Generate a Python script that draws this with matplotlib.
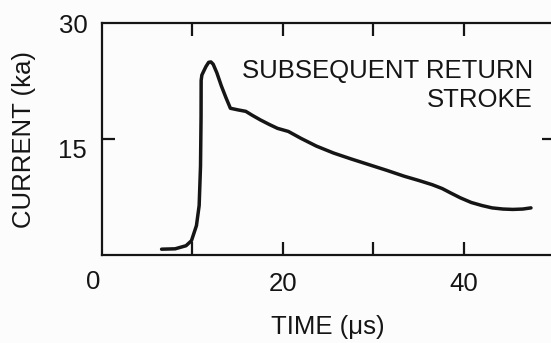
import matplotlib.pyplot as plt

plt.rcParams['font.family'] = ['Liberation Sans', 'DejaVu Sans']

# subsequent return stroke current waveform
time_us = [6.6, 8.1, 9.3, 9.9, 10.45, 10.75, 10.9, 10.96, 10.97, 11.05, 11.25,
           11.5, 11.8, 12.05, 12.3, 12.7, 13.2, 13.7, 14.2, 15.0, 15.9, 16.6,
           17.5, 18.5, 19.4, 20.6, 22.0, 23.7, 25.6, 27.5, 29.5, 31.5, 33.4,
           35.0, 36.5, 37.6, 38.5, 39.6, 40.8, 42.0, 43.1, 44.3, 45.4, 46.5, 47.4]
current_ka = [0.75, 0.8, 1.2, 1.85, 3.8, 6.4, 11.5, 17.9, 22.6, 23.3, 23.8,
              24.4, 24.95, 25.0, 24.7, 23.6, 21.9, 20.4, 19.0, 18.8, 18.6, 18.1,
              17.5, 16.9, 16.4, 16.0, 15.1, 14.1, 13.2, 12.45, 11.7, 10.95, 10.2,
              9.65, 9.1, 8.6, 8.05, 7.4, 6.8, 6.4, 6.1, 5.95, 5.9, 5.95, 6.1]

x_ticks = [10, 20, 30, 40]
x_labels = ['', '20', '', '40']
y_ticks = [15]
y_labels = ['15']

ink = '#151515'
fs = 18.5

fig = plt.figure(figsize=(5.51, 3.43), dpi=100)
fig.patch.set_facecolor('#fcfcfc')
ax = fig.add_axes([0.1848, 0.2566, 0.8216, 0.6754])
ax.set_facecolor('#fcfcfc')

ax.plot(time_us, current_ka, color=ink, lw=2.5, solid_capstyle='round')

ax.set_xlim(0, 50)
ax.set_ylim(0, 30)
ax.set_xticks(x_ticks)
ax.set_xticklabels(x_labels)
ax.set_yticks(y_ticks)
ax.set_yticklabels(y_labels)
ax.tick_params(axis='both', direction='in', length=9.5, width=1.6, color=ink,
               labelsize=fs, labelcolor=ink, top=True, right=True, pad=12)
ax.tick_params(axis='y', pad=11)
for tl in ax.get_yticklabels():
    tl.set_va('top')
    tl.set_y(15.9)
for s in ax.spines.values():
    s.set_linewidth(1.6)
    s.set_color(ink)

# axis end labels
ax.text(-1.5, 29.7, '30', ha='right', va='center', fontsize=fs, color=ink)
ax.text(-0.9, -1.9, '0', ha='center', va='top', fontsize=fs, color=ink)

ax.set_xlabel('TIME (μs)', fontsize=fs, color=ink, labelpad=14)
ax.set_ylabel('CURRENT (ka)', fontsize=fs, color=ink, labelpad=16)

ax.text(47.6, 21.9, 'SUBSEQUENT RETURN\nSTROKE', ha='right', va='center',
        fontsize=fs, color=ink, linespacing=1.25)

fig.savefig('out.png', dpi=100, facecolor=fig.get_facecolor())
